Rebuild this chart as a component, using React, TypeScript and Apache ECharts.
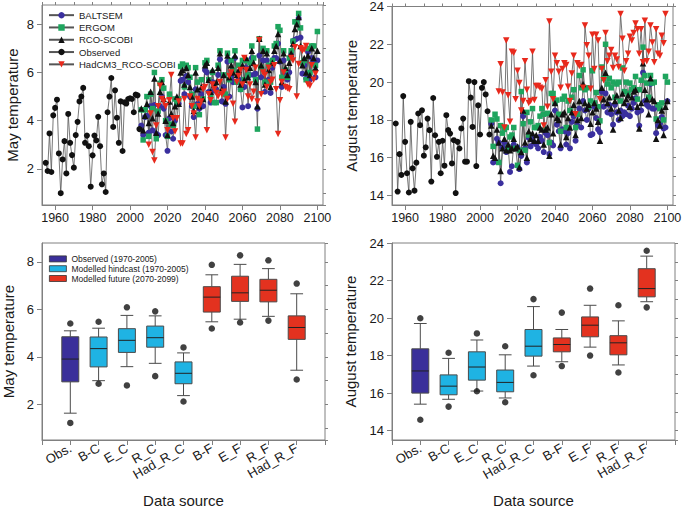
import React, { useEffect, useRef } from 'react';
import * as echarts from 'echarts';

// ---------- time series data ----------
const OBS_START = 1955;
const MODEL_START = 2006;
const HAD_START = 2010;

const mayObserved = [2.25, 1.91, 3.47, 1.87, 4.22, 4.53, 4.87, 2.64, 0.99, 2.39, 3.15, 1.81, 4.28, 3.08, 2.57, 2.05, 3.4, 3.95, 4.8, 5.0, 5.36, 3.08, 3.38, 2.94, 1.26, 2.56, 3.38, 3.18, 4.16, 2.94, 1.36, 1.81, 1.04, 4.35, 5.0, 5.77, 3.74, 5.26, 4.12, 3.08, 4.8, 2.74, 4.76, 4.71, 4.9, 4.93, 4.9, 4.35, 5.08, 5.05, 3.65];

const mayBaltsem = [3.8, 3.4, 4.15, 4.2, 3.5, 4.6, 3.6, 4.65, 3.45, 3.4,
  4.6, 5.0, 4.5, 3.4, 2.75, 4.1, 3.55, 3.25, 4.0, 4.7,
  4.7, 5.65, 5.7, 5.1, 5.85, 5.6, 5.0, 4.6, 4.15, 5.3,
  4.7, 4.5, 5.1, 4.6, 6.1, 6.0, 5.2, 4.75, 5.6, 5.25,
  5.3, 5.9, 6.55, 4.8, 5.4, 4.7, 6.45, 5.0, 5.8, 5.6,
  6.6, 5.6, 5.7, 5.3, 4.55, 5.4, 6.2, 4.6, 5.9, 6.6,
  5.9, 5.95, 4.5, 6.7, 5.8, 6.5, 5.2, 6.5, 5.7, 5.15,
  6.2, 6.6, 6.6, 7.2, 6.45, 5.4, 6.5, 5.9, 5.7, 6.0,
  6.75, 7.3, 7.35, 7.4, 8.25, 7.45, 5.95, 6.3, 5.75, 6.85,
  5.7, 6.6, 6.45, 5.8, 6.5];

const mayErgom = [4.45, 3.2, 4.45, 5.0, 3.35, 5.1, 4.5, 6.0, 3.25, 4.4,
  5.55, 5.7, 5.35, 4.0, 3.35, 5.1, 3.85, 3.8, 4.9, 4.75,
  4.9, 6.25, 6.35, 5.4, 6.3, 6.2, 5.8, 5.1, 4.6, 6.2,
  5.6, 4.25, 5.7, 4.9, 6.4, 6.5, 5.7, 5.0, 6.0, 4.75,
  4.75, 6.3, 6.9, 5.2, 5.9, 5.1, 6.8, 5.7, 6.5, 6.1,
  6.9, 5.6, 6.3, 5.3, 6.5, 5.7, 6.5, 5.9, 6.4, 7.1,
  6.6, 5.7, 3.65, 7.4, 6.2, 7.0, 5.6, 6.9, 6.3, 5.6,
  6.5, 7.1, 7.2, 7.9, 7.75, 5.8, 6.9, 6.1, 5.8, 6.6,
  6.9, 7.3, 8.1, 8.1, 8.45, 7.85, 6.4, 6.5, 5.7, 7.0,
  6.0, 7.1, 7.1, 6.3, 7.7];

const mayRco = [4.5, 3.6, 4.2, 4.7, 3.9, 5.2, 4.1, 5.75, 3.5, 4.3,
  5.2, 5.6, 4.9, 4.0, 3.4, 4.8, 4.3, 3.9, 4.6, 5.0,
  4.7, 6.0, 6.1, 5.5, 6.2, 5.9, 5.4, 5.0, 4.4, 6.0,
  5.3, 4.6, 5.4, 4.9, 6.3, 6.4, 5.7, 5.2, 6.1, 5.5,
  5.6, 6.2, 6.8, 5.3, 5.9, 4.8, 6.7, 5.8, 6.3, 6.0,
  6.7, 5.9, 6.1, 5.5, 6.3, 5.7, 6.6, 5.8, 6.2, 6.9,
  6.4, 5.6, 4.6, 7.4, 6.3, 6.9, 5.5, 6.8, 6.1, 5.4,
  6.4, 6.9, 7.1, 7.6, 6.5, 5.6, 6.8, 6.2, 5.9, 6.4,
  6.8, 7.2, 7.8, 8.0, 8.3, 7.1, 6.3, 6.6, 6.0, 6.7,
  5.9, 7.0, 6.6, 6.2, 6.9];

const mayHadcm3 = [3.0, 4.3, 2.7, 2.35, 3.8, 4.6, 5.45, 4.9, 4.8, 4.6,
  3.6, 4.85, 5.9, 4.1, 3.55, 4.1, 4.8, 3.05, 3.05, 4.9,
  3.45, 3.6, 5.0, 4.6, 4.3, 3.3, 4.9, 4.6, 4.8, 5.3,
  5.4, 3.6, 5.1, 4.85, 5.5, 5.3, 5.15, 5.0, 5.6, 5.1,
  5.2, 3.3, 4.9, 5.85, 6.0, 4.7, 3.95, 5.6, 5.85, 6.1,
  5.5, 6.6, 6.1, 5.0, 5.5, 4.9, 5.2, 6.2, 4.8, 7.35,
  5.1, 6.0, 5.9, 5.4, 6.2, 5.6, 5.7, 6.3, 5.3, 3.45,
  4.85, 5.6, 6.0, 5.4, 5.35, 5.3, 6.6, 6.5, 7.05, 5.0,
  6.35, 7.0, 6.9, 6.95, 7.1, 5.5, 5.45, 6.3, 5.7, 5.95];

const augObserved = [17.81, 14.21, 16.19, 15.09, 19.26, 16.84, 15.18, 14.16, 17.9, 15.44, 14.26, 15.74, 18.34, 17.72, 18.51, 16.11, 16.55, 18.07, 17.46, 14.74, 19.16, 17.19, 16.05, 16.84, 15.18, 16.9, 15.58, 18.25, 17.46, 17.28, 15.7, 16.93, 14.13, 16.84, 16.49, 17.55, 18.07, 15.79, 15.79, 20.05, 19.18, 17.63, 20.0, 15.56, 18.77, 17.23, 19.7, 20.0, 19.35, 18.46, 17.23];

const augBaltsem = [17.8, 15.75, 15.8, 17.0, 16.8, 14.65, 16.55, 16.8, 16.3, 16.6,
  15.25, 15.55, 16.7, 16.5, 16.55, 15.4, 16.1, 18.2, 16.5, 15.75,
  17.05, 16.6, 17.1, 16.8, 16.7, 16.5, 17.1, 16.9, 16.3, 17.3,
  17.2, 16.2, 16.8, 16.65, 18.5, 17.75, 17.4, 16.5, 17.5, 17.4,
  16.7, 17.3, 16.5, 17.9, 18.2, 16.9, 17.7, 18.6, 17.6, 19.0,
  18.5, 18.0, 18.6, 17.2, 17.25, 18.7, 18.1, 17.5, 17.35, 19.5,
  18.7, 19.4, 18.4, 18.8, 18.3, 17.75, 18.8, 18.4, 18.0, 18.5,
  18.2, 18.4, 18.3, 18.75, 18.2, 18.6, 18.9, 19.15, 18.4, 17.7,
  18.5, 20.5, 19.0, 18.8, 18.7, 19.9, 18.6, 18.6, 17.3, 17.7,
  17.8, 18.15, 17.55, 17.6, 19.0];

const augErgom = [18.0, 16.6, 18.3, 18.05, 15.75, 17.7, 17.3, 17.5, 17.6, 16.55,
  17.1, 17.2, 17.6, 16.5, 15.6, 16.4, 19.5, 17.8, 16.4, 18.4,
  17.2, 17.9, 18.6, 17.6, 17.6, 17.7, 18.2, 18.6, 18.3, 17.5,
  18.35, 16.8, 19.4, 19.4, 18.9, 19.05, 18.3, 17.4, 19.1, 19.25,
  17.6, 19.0, 18.5, 19.2, 19.6, 17.6, 18.3, 20.35, 19.7, 20.65,
  19.6, 19.7, 18.7, 19.0, 20.6, 18.9, 19.45, 18.7, 17.95, 20.8,
  20.2, 22.0, 19.9, 20.2, 19.7, 20.0, 19.2, 19.9, 20.0, 19.0,
  20.75, 19.5, 20.0, 19.4, 19.95, 19.6, 19.7, 20.3, 19.1, 19.6,
  20.1, 21.85, 20.35, 19.95, 19.2, 20.35, 19.95, 20.0, 18.05, 18.8,
  18.6, 18.9, 18.0, 20.3, 20.0];

const augRco = [17.7, 16.1, 16.0, 17.5, 16.8, 15.3, 16.5, 17.0, 16.4, 16.7,
  16.4, 16.5, 17.0, 16.5, 16.6, 15.5, 16.3, 18.5, 16.8, 16.0,
  17.4, 17.0, 17.3, 16.9, 17.2, 16.9, 17.6, 17.5, 16.7, 17.5,
  17.6, 16.1, 18.3, 17.3, 18.9, 18.1, 18.0, 16.7, 18.3, 18.4,
  17.1, 18.1, 17.6, 18.4, 18.8, 17.2, 18.0, 19.0, 18.1, 19.9,
  18.9, 18.6, 18.8, 17.8, 18.4, 18.9, 18.6, 17.9, 16.9, 19.7,
  19.1, 20.5, 18.9, 19.2, 18.6, 17.5, 19.0, 19.3, 18.5, 18.1,
  19.4, 18.9, 19.1, 19.3, 18.7, 19.2, 19.5, 19.6, 18.7, 17.55,
  18.9, 21.0, 19.6, 19.1, 18.3, 20.2, 19.1, 19.0, 17.0, 18.0,
  17.7, 18.5, 17.2, 18.7, 19.0];

const augHadcm3 = [19.5, 20.95, 19.45, 17.6, 22.2, 19.3, 17.9, 21.6, 21.55, 19.1,
  20.6, 19.95, 18.5, 19.0, 21.1, 19.6, 18.9, 19.0, 21.6, 19.05,
  19.8, 19.8, 19.7, 19.65, 17.7, 20.1, 18.7, 23.2, 20.55, 19.1,
  21.4, 21.0, 20.55, 19.7, 20.7, 21.0, 20.9, 19.75, 19.0, 20.45,
  21.4, 18.3, 21.0, 20.85, 20.9, 19.7, 23.0, 21.95, 21.4, 19.65,
  22.5, 20.7, 22.5, 22.2, 19.1, 20.7, 20.1, 22.6, 21.1, 21.4,
  21.7, 20.75, 21.4, 21.2, 20.8, 23.6, 22.3, 20.6, 21.1, 21.5,
  22.4, 22.2, 22.6, 23.1, 22.8, 21.5, 22.8, 21.05, 23.25, 21.1,
  21.6, 23.0, 22.1, 21.05, 22.8, 21.5, 21.4, 22.45, 22.05, 23.6];

// ---------- box plot data ----------
const boxCategories = ['', 'Obs.', 'B-C', 'E_C', 'R_C', 'Had_R_C', 'B-F', 'E_F', 'R_F', 'Had_R_F', ''];
const boxGroupNames = ['Observed (1970-2005)', 'Modelled hindcast (1970-2005)', 'Modelled future (2070-2099)'];
const boxGroupOf = [0, 1, 1, 1, 1, 2, 2, 2, 2];

// [lower whisker, q1, median, q3, upper whisker]
const mayBoxStats = [
  [1.63, 2.95, 3.91, 4.85, 5.1],
  [3.0, 3.58, 4.35, 4.84, 5.21],
  [3.59, 4.19, 4.7, 5.19, 5.75],
  [3.73, 4.41, 4.81, 5.3, 5.73],
  [2.37, 2.87, 3.31, 3.79, 4.17],
  [5.48, 5.89, 6.52, 6.96, 7.46],
  [5.59, 6.34, 6.7, 7.4, 7.9],
  [5.71, 6.32, 6.81, 7.27, 7.72],
  [3.44, 4.74, 5.24, 5.73, 6.66],
];
const mayBoxDots = [[1.22, 5.41], [2.87, 5.48], [2.8, 6.09], [3.19, 5.92], [2.12, 4.4], [5.2, 7.88], [5.45, 8.28], [5.53, 8.07], [3.05, 7.09]];

const augBoxStats = [
  [15.41, 16.0, 17.18, 18.36, 19.71],
  [15.67, 15.91, 16.37, 16.97, 17.85],
  [16.11, 16.69, 17.39, 18.2, 18.83],
  [15.74, 16.07, 16.57, 17.23, 18.04],
  [17.44, 17.97, 18.5, 19.39, 20.61],
  [17.67, 18.2, 18.59, 18.94, 19.39],
  [18.45, 19.0, 19.62, 20.06, 20.68],
  [17.5, 18.04, 18.68, 19.06, 19.85],
  [20.87, 21.13, 21.57, 22.63, 23.3],
];
const augBoxDots = [[14.58, 19.99], [15.28, 18.15], [16.1, 19.18], [15.51, 18.5], [16.95, 21.01], [17.44, 20.29], [18.0, 21.57], [17.1, 20.68], [20.57, 23.59]];

// ---------- styling ----------
const FONT = 'Liberation Sans, Arial, Helvetica, sans-serif';
const AXIS_COLOR = '#808080';
const TEXT_COLOR = '#1a1a1a';
const LINE_COLOR = '#555555';
const C_BALTSEM = '#3a2f9e';
const C_ERGOM = '#1ea55e';
const C_BLACK = '#111111';
const C_HAD = '#e8291c';
const BOX_COLORS = ['#3a2f9a', '#1fb3e3', '#e3321f'];

const pairs = (start: number, vals: number[]) => vals.map((v, i) => [start + i, v]);
const plainNumber = (v: number) => String(v);

function valueAxis(gridIndex: number, min: number, max: number, step: number, minor: boolean, opts: any = {}) {
  return {
    type: 'value',
    gridIndex,
    min,
    max,
    splitNumber: Math.round((max - min) / step),
    minInterval: step,
    maxInterval: step,
    axisLine: { show: !minor, onZero: false, lineStyle: { color: AXIS_COLOR, width: 1 } },
    axisTick: { show: true, inside: false, length: minor ? 3 : 5, lineStyle: { color: AXIS_COLOR, width: 1 } },
    axisLabel: {
      show: !minor,
      showMinLabel: false,
      showMaxLabel: opts.showMaxLabel ?? false,
      fontSize: opts.fontSize ?? 13,
      color: TEXT_COLOR,
      fontFamily: FONT,
      margin: opts.margin ?? 8,
      formatter: plainNumber,
    },
    splitLine: { show: false },
  };
}

function lineSeries(name: string, start: number, vals: number[], axis: number, symbol: string, color: string, size: number, rotate = 0) {
  return {
    type: 'line',
    name,
    xAxisIndex: axis * 2,
    yAxisIndex: axis * 2,
    data: pairs(start, vals),
    symbol,
    symbolSize: size,
    symbolRotate: rotate,
    showSymbol: true,
    itemStyle: { color, borderColor: color, borderWidth: 0 },
    lineStyle: { color: LINE_COLOR, width: 0.8 },
    emphasis: { disabled: true },
  };
}

const renderBox = (params: any, api: any) => {
  const x = api.value(0);
  const low = api.coord([x, api.value(1)]);
  const q1 = api.coord([x, api.value(2)]);
  const med = api.coord([x, api.value(3)]);
  const q3 = api.coord([x, api.value(4)]);
  const high = api.coord([x, api.value(5)]);
  const band = api.size([1, 0])[0];
  const bw = band * 0.6;
  const cw = band * 0.45;
  const cx = med[0];
  const fill = api.visual('color');
  const stroke = '#4a4a4a';
  return {
    type: 'group',
    children: [
      { type: 'line', shape: { x1: cx, y1: high[1], x2: cx, y2: q3[1] }, style: { stroke, lineWidth: 1 } },
      { type: 'line', shape: { x1: cx, y1: q1[1], x2: cx, y2: low[1] }, style: { stroke, lineWidth: 1 } },
      { type: 'line', shape: { x1: cx - cw / 2, y1: high[1], x2: cx + cw / 2, y2: high[1] }, style: { stroke, lineWidth: 1 } },
      { type: 'line', shape: { x1: cx - cw / 2, y1: low[1], x2: cx + cw / 2, y2: low[1] }, style: { stroke, lineWidth: 1 } },
      { type: 'rect', shape: { x: cx - bw / 2, y: q3[1], width: bw, height: q1[1] - q3[1] }, style: { fill, stroke, lineWidth: 1 } },
      { type: 'line', shape: { x1: cx - bw / 2, y1: med[1], x2: cx + bw / 2, y2: med[1] }, style: { stroke: '#222', lineWidth: 1 } },
    ],
  };
};

function boxSeries(stats: number[][], dots: number[][], xIdx: number, yIdx: number) {
  const out: any[] = [];
  for (let g = 0; g < 3; g++) {
    const data: any[] = [];
    stats.forEach((s, i) => {
      if (boxGroupOf[i] === g) data.push([i + 1, ...s]);
    });
    out.push({
      type: 'custom',
      name: boxGroupNames[g],
      xAxisIndex: xIdx,
      yAxisIndex: yIdx,
      renderItem: renderBox,
      encode: { x: 0, y: [1, 2, 3, 4, 5] },
      itemStyle: { color: BOX_COLORS[g] },
      data,
      z: 2,
    });
  }
  const dotData: number[][] = [];
  dots.forEach((d, i) => {
    dotData.push([i + 1, d[0]]);
    dotData.push([i + 1, d[1]]);
  });
  out.push({
    type: 'scatter',
    name: '5th/95th percentile',
    xAxisIndex: xIdx,
    yAxisIndex: yIdx,
    data: dotData,
    symbol: 'circle',
    symbolSize: 6.5,
    itemStyle: { color: C_BLACK },
    z: 3,
  });
  return out;
}

function categoryAxis(gridIndex: number) {
  return {
    type: 'category',
    gridIndex,
    data: boxCategories,
    boundaryGap: false,
    name: 'Data source',
    nameLocation: 'middle',
    nameGap: 53,
    nameTextStyle: { fontSize: 15, color: TEXT_COLOR, fontFamily: FONT },
    axisLine: { show: true, onZero: false, lineStyle: { color: AXIS_COLOR } },
    axisTick: { show: true, inside: false, length: 5, interval: 0, lineStyle: { color: AXIS_COLOR } },
    axisLabel: { interval: 0, rotate: 30, fontSize: 13, color: TEXT_COLOR, fontFamily: FONT, margin: 7 },
    splitLine: { show: false },
  };
}

const yName = (name: string, gap: number) => ({
  name,
  nameLocation: 'middle',
  nameGap: gap,
  nameRotate: 90,
  nameTextStyle: { fontSize: 15, color: TEXT_COLOR, fontFamily: FONT },
});

export default function App() {
  const ref = useRef<HTMLDivElement>(null);
  useEffect(() => {
    document.body.style.margin = '0';
    if (!ref.current) return;
    const chart = echarts.init(ref.current, undefined, { renderer: 'svg' });
    const gridBase = { show: true, borderColor: AXIS_COLOR, borderWidth: 1, backgroundColor: 'transparent', containLabel: false };
    const xOpts = { fontSize: 12.5, margin: 6 };

    const xAxis: any[] = [
      valueAxis(0, 1953, 2103, 20, false, xOpts),
      valueAxis(0, 1953, 2103, 10, true),
      valueAxis(1, 1953, 2103, 20, false, xOpts),
      valueAxis(1, 1953, 2103, 10, true),
      categoryAxis(2),
      categoryAxis(3),
    ];
    const yAxis: any[] = [
      { ...valueAxis(0, 0.5, 8.8, 2, false), ...yName('May temperature', 22) },
      valueAxis(0, 0.5, 8.8, 1, true),
      { ...valueAxis(1, 13.5, 24, 2, false, { showMaxLabel: true }), ...yName('August temperature', 33) },
      valueAxis(1, 13.5, 24, 1, true),
      { ...valueAxis(2, 0.5, 8.8, 2, false), ...yName('May temperature', 26) },
      valueAxis(2, 0.5, 8.8, 1, true),
      { ...valueAxis(3, 13.5, 24, 2, false, { showMaxLabel: true }), ...yName('August temperature', 34) },
      valueAxis(3, 13.5, 24, 1, true),
    ];

    const option: any = {
      animation: false,
      backgroundColor: '#ffffff',
      textStyle: { fontFamily: FONT },
      grid: [
        { ...gridBase, left: 42, top: 5, width: 281, height: 200 },
        { ...gridBase, left: 392, top: 5, width: 281, height: 200 },
        { ...gridBase, left: 41, top: 243, width: 284, height: 199 },
        { ...gridBase, left: 392, top: 243, width: 283, height: 199 },
      ],
      legend: [
        {
          orient: 'vertical',
          left: 48,
          top: 9,
          padding: 0,
          itemGap: 0,
          itemWidth: 25,
          itemHeight: 8,
          selectedMode: false,
          textStyle: { fontSize: 9.5, color: TEXT_COLOR, fontFamily: FONT, lineHeight: 12.3 },
          data: ['BALTSEM', 'ERGOM', 'RCO-SCOBI', 'Observed', 'HadCM3_RCO-SCOBI'],
        },
        {
          orient: 'vertical',
          left: 49,
          top: 254,
          padding: 0,
          itemGap: 0,
          itemWidth: 17,
          itemHeight: 6,
          selectedMode: false,
          textStyle: { fontSize: 8.5, color: TEXT_COLOR, fontFamily: FONT, lineHeight: 9.8 },
          data: boxGroupNames.map((n) => ({ name: n, icon: 'rect', itemStyle: { borderColor: '#333', borderWidth: 0.8 } })),
        },
      ],
      xAxis,
      yAxis,
      series: [
        lineSeries('BALTSEM', MODEL_START, mayBaltsem, 0, 'circle', C_BALTSEM, 6),
        lineSeries('ERGOM', MODEL_START, mayErgom, 0, 'rect', C_ERGOM, 5.5),
        lineSeries('RCO-SCOBI', MODEL_START, mayRco, 0, 'triangle', C_BLACK, 6.5),
        lineSeries('Observed', OBS_START, mayObserved, 0, 'circle', C_BLACK, 6),
        lineSeries('HadCM3_RCO-SCOBI', HAD_START, mayHadcm3, 0, 'triangle', C_HAD, 6.5, 180),
        lineSeries('BALTSEM', MODEL_START, augBaltsem, 1, 'circle', C_BALTSEM, 6),
        lineSeries('ERGOM', MODEL_START, augErgom, 1, 'rect', C_ERGOM, 5.5),
        lineSeries('RCO-SCOBI', MODEL_START, augRco, 1, 'triangle', C_BLACK, 6.5),
        lineSeries('Observed', OBS_START, augObserved, 1, 'circle', C_BLACK, 6),
        lineSeries('HadCM3_RCO-SCOBI', HAD_START, augHadcm3, 1, 'triangle', C_HAD, 6.5, 180),
        ...boxSeries(mayBoxStats, mayBoxDots, 4, 4),
        ...boxSeries(augBoxStats, augBoxDots, 5, 6),
      ],
    };
    chart.setOption(option);
    return () => chart.dispose();
  }, []);
  return <div ref={ref} style={{ width: 685, height: 509 }} />;
}
